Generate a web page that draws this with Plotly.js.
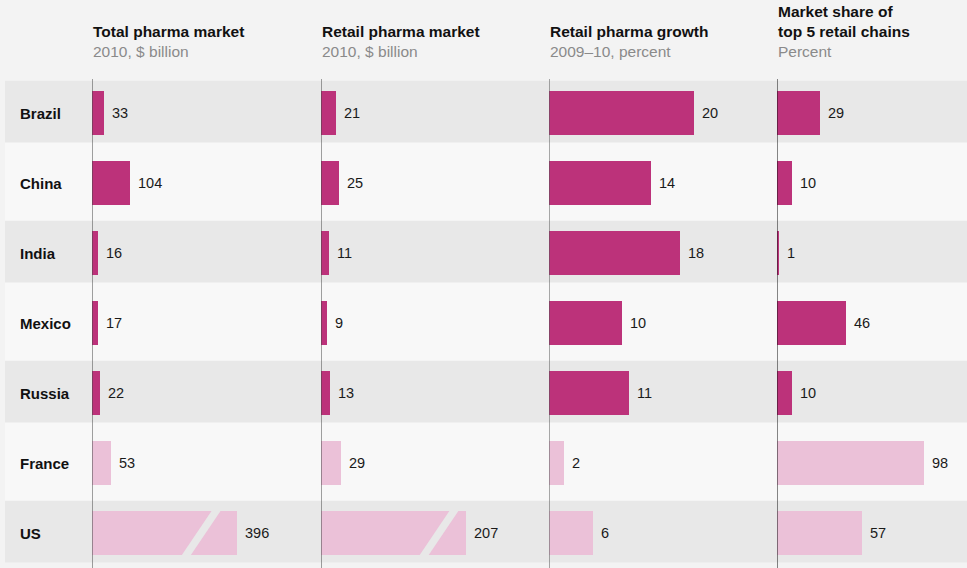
<!DOCTYPE html>
<html>
<head>
<meta charset="utf-8">
<script src="https://cdn.plot.ly/plotly-3.0.1.min.js"></script>
<style>
html,body{margin:0;padding:0;background:#f3f3f3;}
#chart{width:967px;height:568px;}
</style>
</head>
<body>
<div id="chart"></div>
<script>
// ---- data ----
var countries = ['Brazil', 'China', 'India', 'Mexico', 'Russia', 'France', 'US'];
var groups = ['emerging', 'emerging', 'emerging', 'emerging', 'emerging', 'developed', 'developed'];
var totalPharma = [33, 104, 16, 17, 22, 53, 396];
var retailPharma = [21, 25, 11, 9, 13, 29, 207];
var retailGrowth = [20, 14, 18, 10, 11, 2, 6];
var top5Share = [29, 10, 1, 46, 10, 98, 57];
var headerTitles = ['Total pharma market', 'Retail pharma market', 'Retail pharma growth', 'Market share of<br>top 5 retail chains'];
var headerSubtitles = ['2010, $ billion', '2010, $ billion', '2009\u201310, percent', 'Percent'];
var brokenBars = [['US'], ['US'], [], []];

// ---- style ----
var W = 967, H = 568, TOP = 78;
var DARK = 'rgb(188,50,122)', LIGHT = 'rgb(235,193,216)';
var BAND_DARK = '#e8e8e8', BAND_LIGHT = '#f8f8f8';
var FONT = '"Liberation Sans", Arial, sans-serif';
var colColors = groups.map(function (g) { return g === 'emerging' ? DARK : LIGHT; });

var series = [totalPharma, retailPharma, retailGrowth, top5Share];
var axes = ['x', 'x2', 'x3', 'x4'];
var domainsPx = [[92, 312], [321, 541], [549, 769], [777, 967]];
var ranges = [[0, 600], [0, 314], [0, 30.3], [0, 126.7]];
var breakPx = [[-25, -56], [-16, -47]]; // [top-left offset, bottom-left offset] from bar end
var lineColors = ['#444', '#444', '#555', '#111'];

function py(p) { return (H - p) / (H - TOP); }

var traces = [];
var annotations = [];
var shapes = [];

// background area and bands
shapes.push({type: 'rect', layer: 'below', xref: 'paper', yref: 'y', x0: 5 / W, x1: 1, y0: -0.46, y1: 6.42,
  fillcolor: BAND_LIGHT, line: {width: 0}});
countries.forEach(function (c, i) {
  if (i % 2 === 0) {
    shapes.push({type: 'rect', layer: 'below', xref: 'paper', yref: 'y', x0: 5 / W, x1: 1,
      y0: i - 0.46, y1: i + 0.42, fillcolor: BAND_DARK, line: {width: 0}});
  }
  annotations.push({xref: 'paper', yref: 'y', x: 17.5 / W, y: c, xanchor: 'left', yanchor: 'middle',
    text: '<b>' + c + '</b>', showarrow: false, font: {family: FONT, size: 15, color: '#111'}});
});

series.forEach(function (vals, k) {
  var ax = axes[k];
  traces.push({
    type: 'bar', orientation: 'h', x: vals, y: countries, xaxis: ax, yaxis: 'y',
    width: 0.63, marker: {color: colColors, line: {width: 0}}, hoverinfo: 'x+y'
  });
  vals.forEach(function (v, i) {
    annotations.push({xref: ax, yref: 'y', x: v, y: countries[i], xanchor: 'left', yanchor: 'middle',
      xshift: 6, text: String(v), showarrow: false, font: {family: FONT, size: 14.5, color: '#1a1a1a'}});
  });
  // header
  annotations.push({xref: ax, yref: 'paper', x: 0, y: py(62), xanchor: 'left', yanchor: 'bottom', xshift: -1.5,
    align: 'left', showarrow: false,
    text: '<b>' + headerTitles[k] + '</b><br><span style="color:#8a8a8a">' + headerSubtitles[k] + '</span>',
    font: {family: FONT, size: 15.5, color: '#111'}});
  // axis line
  shapes.push({type: 'line', layer: 'above', xref: ax, yref: 'paper', x0: 0, x1: 0, y0: 0, y1: py(79),
    line: {color: lineColors[k], width: 1}});
  // break marks
  brokenBars[k].forEach(function (c) {
    var i = countries.indexOf(c);
    var off = breakPx[k];
    var w = 9;
    shapes.push({type: 'path', layer: 'above', xref: ax, yref: 'y', xsizemode: 'pixel', ysizemode: 'pixel',
      xanchor: vals[i], yanchor: c,
      path: 'M' + off[1] + ',-23 L' + (off[1] + w) + ',-23 L' + (off[0] + w) + ',23 L' + off[0] + ',23 Z',
      fillcolor: BAND_DARK, line: {width: 0}});
  });
});

var layout = {
  width: W, height: H,
  margin: {l: 0, r: 0, t: TOP, b: 0, pad: 0},
  paper_bgcolor: '#f3f3f3', plot_bgcolor: 'rgba(0,0,0,0)',
  showlegend: false,
  bargap: 0,
  yaxis: {type: 'category', categoryorder: 'array', categoryarray: countries, range: [6.5, -0.5],
    showticklabels: false, showgrid: false, zeroline: false, showline: false, ticks: '', fixedrange: true},
  annotations: annotations,
  shapes: shapes,
  font: {family: FONT}
};
axes.forEach(function (ax, k) {
  var name = ax === 'x' ? 'xaxis' : 'xaxis' + ax.slice(1);
  layout[name] = {domain: [domainsPx[k][0] / W, domainsPx[k][1] / W], range: ranges[k], anchor: 'y',
    visible: false, fixedrange: true};
});

Plotly.newPlot('chart', traces, layout, {displayModeBar: false, staticPlot: true});
</script>
</body>
</html>
